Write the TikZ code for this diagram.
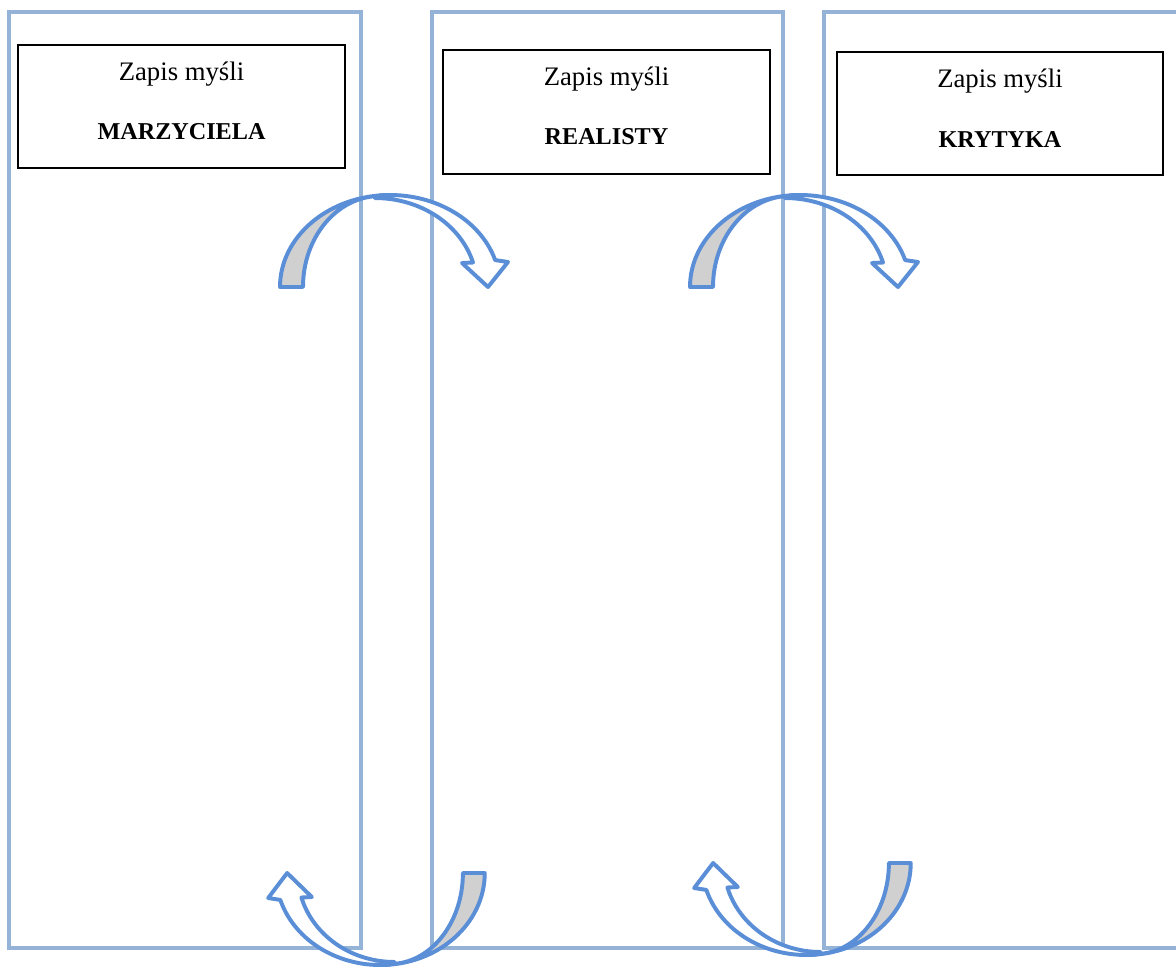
\documentclass[tikz,border=0pt]{standalone}
\usepackage{fontspec}
\setmainfont{Liberation Serif}
\usepackage{tikz}
\definecolor{panelblue}{HTML}{95B3D7}
\definecolor{arrowblue}{HTML}{5A8ED6}
\definecolor{bandgray}{HTML}{D0D0D0}
\def\grayband{(-105,0) arc[start angle=180,end angle=90,x radius=110,y radius=92] -- (-5,91) arc[start angle=90,end angle=180,x radius=77,y radius=91] -- cycle}
\def\whiteband{(-4.6,91.65) arc[start angle=95,end angle=17,x radius=110,y radius=92] -- (123,25) -- (103,0) -- (77,24) -- (88,24.5) arc[start angle=16,end angle=90,x radius=102,y radius=89] -- cycle}
\tikzset{
  panel/.style={draw=panelblue,line width=2.6pt},
  thinkbox/.style={draw=black,line width=1.1pt,inner sep=0pt},
  thinktext/.style={anchor=base,inner sep=0pt,font=\fontsize{19}{22}\selectfont},
  thinkname/.style={anchor=base,inner sep=0pt,font=\fontsize{17.2}{20}\selectfont\bfseries},
  band/.style={draw=arrowblue,line width=2.8pt,line join=round}
}

\begin{document}
\begin{tikzpicture}[x=0.025cm,y=-0.025cm]
\useasboundingbox (0,0) rectangle (1176,968);
% the three columns
\draw[panel] (9,12) rectangle (361,948);
\draw[panel] (432,12) rectangle (783,948);
\draw[panel] (1180,12) -- (824,12) -- (824,948) -- (1180,948);
% title boxes
\node[thinkbox,minimum width=327*0.025cm,minimum height=123*0.025cm] (marz) at (181.5,106.5) {};
\node[thinktext] (marzA) at (181.5,80) {Zapis myśli};
\node[thinkname] (marzB) at (181.5,139) {MARZYCIELA};
\node[thinkbox,minimum width=327*0.025cm,minimum height=124*0.025cm] (real) at (606.5,112) {};
\node[thinktext] (realA) at (606.5,85) {Zapis myśli};
\node[thinkname] (realB) at (606.5,144) {REALISTY};
\node[thinkbox,minimum width=326*0.025cm,minimum height=123*0.025cm] (kryt) at (1000,113.5) {};
\node[thinktext] (krytA) at (1000,87) {Zapis myśli};
\node[thinkname] (krytB) at (1000,147) {KRYTYKA};
% curved arrows on top
\begin{scope}[shift={(385,287)},yscale=-1]
\draw[band,fill=bandgray] \grayband;
\draw[band,fill=white] \whiteband;
\end{scope}
\begin{scope}[shift={(795,287)},yscale=-1]
\draw[band,fill=bandgray] \grayband;
\draw[band,fill=white] \whiteband;
\end{scope}
% curved arrows at the bottom
\begin{scope}[shift={(385,873)},xscale=-0.95]
\draw[band,fill=bandgray] \grayband;
\draw[band,fill=white] \whiteband;
\end{scope}
\begin{scope}[shift={(811,863)},xscale=-0.95]
\draw[band,fill=bandgray] \grayband;
\draw[band,fill=white] \whiteband;
\end{scope}
\end{tikzpicture}
\end{document}
